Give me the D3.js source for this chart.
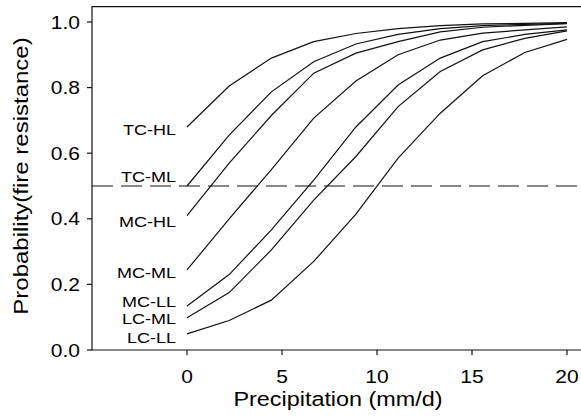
<!DOCTYPE html>
<html>
<head>
<meta charset="utf-8">
<script src="https://cdn.jsdelivr.net/npm/d3@7"></script>
<style>
  body { margin: 0; background: #fff; }
  svg { display: block; font-family: "Liberation Sans", Arial, Helvetica, sans-serif; }
</style>
</head>
<body>
<div id="chart"></div>
<script>
// precipitation (mm/d) at which each curve was evaluated
var precip = [0, 2.22, 4.44, 6.67, 8.89, 11.11, 13.33, 15.56, 17.78, 20];

// probability of fire resistance
var tcHL = [0.68, 0.805, 0.89, 0.94, 0.965, 0.98, 0.989, 0.994, 0.996, 0.998];
var tcML = [0.50, 0.655, 0.787, 0.879, 0.933, 0.962, 0.98, 0.989, 0.993, 0.996];
var mcHL = [0.41, 0.57, 0.715, 0.844, 0.905, 0.94, 0.97, 0.984, 0.99, 0.995];
var mcML = [0.244, 0.40, 0.55, 0.707, 0.82, 0.90, 0.945, 0.966, 0.976, 0.985];
var mcLL = [0.134, 0.23, 0.366, 0.518, 0.68, 0.808, 0.89, 0.94, 0.962, 0.976];
var lcML = [0.098, 0.175, 0.305, 0.457, 0.59, 0.742, 0.849, 0.915, 0.95, 0.973];
var lcLL = [0.049, 0.09, 0.152, 0.27, 0.414, 0.585, 0.722, 0.836, 0.907, 0.947];

var seriesNames = ["TC-HL", "TC-ML", "MC-HL", "MC-ML", "MC-LL", "LC-ML", "LC-LL"];
var seriesValues = [tcHL, tcML, mcHL, mcML, mcLL, lcML, lcLL];

var xTicks = [0, 5, 10, 15, 20];
var yTicks = [0, 0.2, 0.4, 0.6, 0.8, 1.0];
var threshold = 0.5;

// label nudges (px) so the names sit beside the line starts
var labelShift = { "TC-HL": 8, "TC-ML": -4, "MC-HL": 11, "MC-ML": 8, "MC-LL": 1, "LC-ML": 6, "LC-LL": 9 };

var width = 581, height = 420;
var stretch = 1.2; // the lettering in the figure is a bit wider than Arial

var x = d3.scaleLinear().domain([-5, 21]).range([92, 586]);
var y = d3.scaleLinear().domain([0, 1]).range([350, 22]);

var svg = d3.select("#chart").append("svg")
  .attr("width", width)
  .attr("height", height);

function addText(txt, px, py, size, anchor, rot) {
  return svg.append("text")
    .attr("transform", "translate(" + px + "," + py + ")" + (rot ? " rotate(" + rot + ")" : "") + " scale(" + stretch + ",1)")
    .attr("text-anchor", anchor)
    .style("font-size", size + "px")
    .attr("fill", "#000")
    .text(txt);
}

// frame: left, top, bottom (right side runs off the picture)
svg.append("path")
  .attr("d", "M" + x(21) + "," + y(1.047) + "H" + x(-5) + "V" + y(0) + "H" + x(21))
  .attr("fill", "none")
  .attr("stroke", "#111")
  .attr("stroke-width", 1.2);

// y ticks
yTicks.forEach(function(t) {
  svg.append("line")
    .attr("x1", x(-5) - 5).attr("x2", x(-5))
    .attr("y1", y(t)).attr("y2", y(t))
    .attr("stroke", "#111").attr("stroke-width", 1.2);
  addText(d3.format(".1f")(t), x(-5) - 12, y(t) + 6.5, 17.5, "end");
});

// x ticks
xTicks.forEach(function(t) {
  svg.append("line")
    .attr("x1", x(t)).attr("x2", x(t))
    .attr("y1", y(0)).attr("y2", y(0) + 5)
    .attr("stroke", "#111").attr("stroke-width", 1.2);
  addText(String(t), x(t), y(0) + 33, 17.5, "middle");
});

// 50% reference line
svg.append("line")
  .attr("x1", x(-5)).attr("x2", x(21))
  .attr("y1", y(threshold)).attr("y2", y(threshold))
  .attr("stroke", "#111")
  .attr("stroke-width", 1.2)
  .attr("stroke-dasharray", "21,8");

var line = d3.line()
  .x(function(d, i) { return x(precip[i]); })
  .y(function(d) { return y(d); });

seriesValues.forEach(function(vals, k) {
  svg.append("path")
    .datum(vals)
    .attr("fill", "none")
    .attr("stroke", "#111")
    .attr("stroke-width", 1.2)
    .attr("d", line);

  var name = seriesNames[k];
  addText(name, x(0) - 11, y(vals[0]) + labelShift[name], 15, "end");
});

// axis titles
addText("Precipitation (mm/d)", 338, 406, 19.5, "middle");
addText("Probability(fire resistance)", 28, 176, 20, "middle", -90);
</script>
</body>
</html>
